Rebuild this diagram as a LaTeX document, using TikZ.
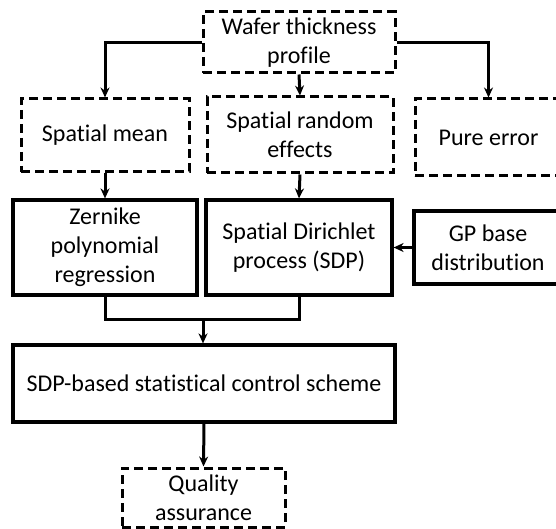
\documentclass[tikz,border=0pt]{standalone}
\usepackage{fontspec}
\setmainfont[Ligatures=NoCommon]{Carlito}
\usepackage{tikz}
\usetikzlibrary{arrows.meta,positioning}
\tikzstyle{stage} = [rectangle, draw=black, line width=3pt, dash pattern=on 9pt off 5pt, align=center, inner sep=0pt, font=\fontsize{24}{29}\selectfont]
\tikzstyle{method} = [rectangle, draw=black, line width=3.2pt, align=center, inner sep=0pt, font=\fontsize{24}{29}\selectfont]
\tikzstyle{arrow} = [line width=3pt, ->, >={Stealth[length=10pt,width=9pt]}, color=black]
\tikzstyle{link} = [line width=3pt, color=black]

\begin{document}
\begin{tikzpicture}[x=1pt, y=-1pt]
\clip (0,0) rectangle (556,529);
% Data and its components
\node[stage, minimum width=192pt, minimum height=61pt] (wafer) at (299,42.5) {Wafer thickness\\profile};
\node[stage, minimum width=168pt, minimum height=73pt] (mean) at (105,135.5) {Spatial mean};
\node[stage, minimum width=186pt, minimum height=76pt] (random) at (300,135) {Spatial random\\effects};
\node[stage, minimum width=147pt, minimum height=77pt] (pure) at (488.5,137.5) {Pure error};

% Models
\node[method, minimum width=184pt, minimum height=95pt] (zern) at (105,247.5) {Zernike\\polynomial\\regression};
\node[method, minimum width=186pt, minimum height=95pt] (sdp) at (299,247.5) {Spatial Dirichlet\\process (SDP)};
\node[method, minimum width=148pt, minimum height=73pt] (gp) at (488,247.5) {GP base\\distribution};

% Monitoring
\node[method, minimum width=382pt, minimum height=77pt] (control) at (204,383.5) {SDP-based statistical control scheme};
\node[stage, minimum width=163pt, minimum height=59pt] (quality) at (203.5,497.5) {Quality\\assurance};
\coordinate (join) at (203,319);

% Arrows
\draw[arrow] (wafer.west) -| (mean.north);
\draw[arrow] (wafer.east) -| (pure.north);
\draw[arrow] (wafer.south) -- (random.north);
\draw[arrow] (mean.south) -- (zern.north);
\draw[arrow] (random.south) -- (sdp.north);
\draw[arrow] (gp.west) -- (sdp.east);
\draw[link] (zern.south) |- (join);
\draw[link] (sdp.south) |- (join);
\draw[arrow] (join) -- (join |- control.north);
\draw[arrow] (control.south) -- (quality.north);
\end{tikzpicture}
\end{document}
